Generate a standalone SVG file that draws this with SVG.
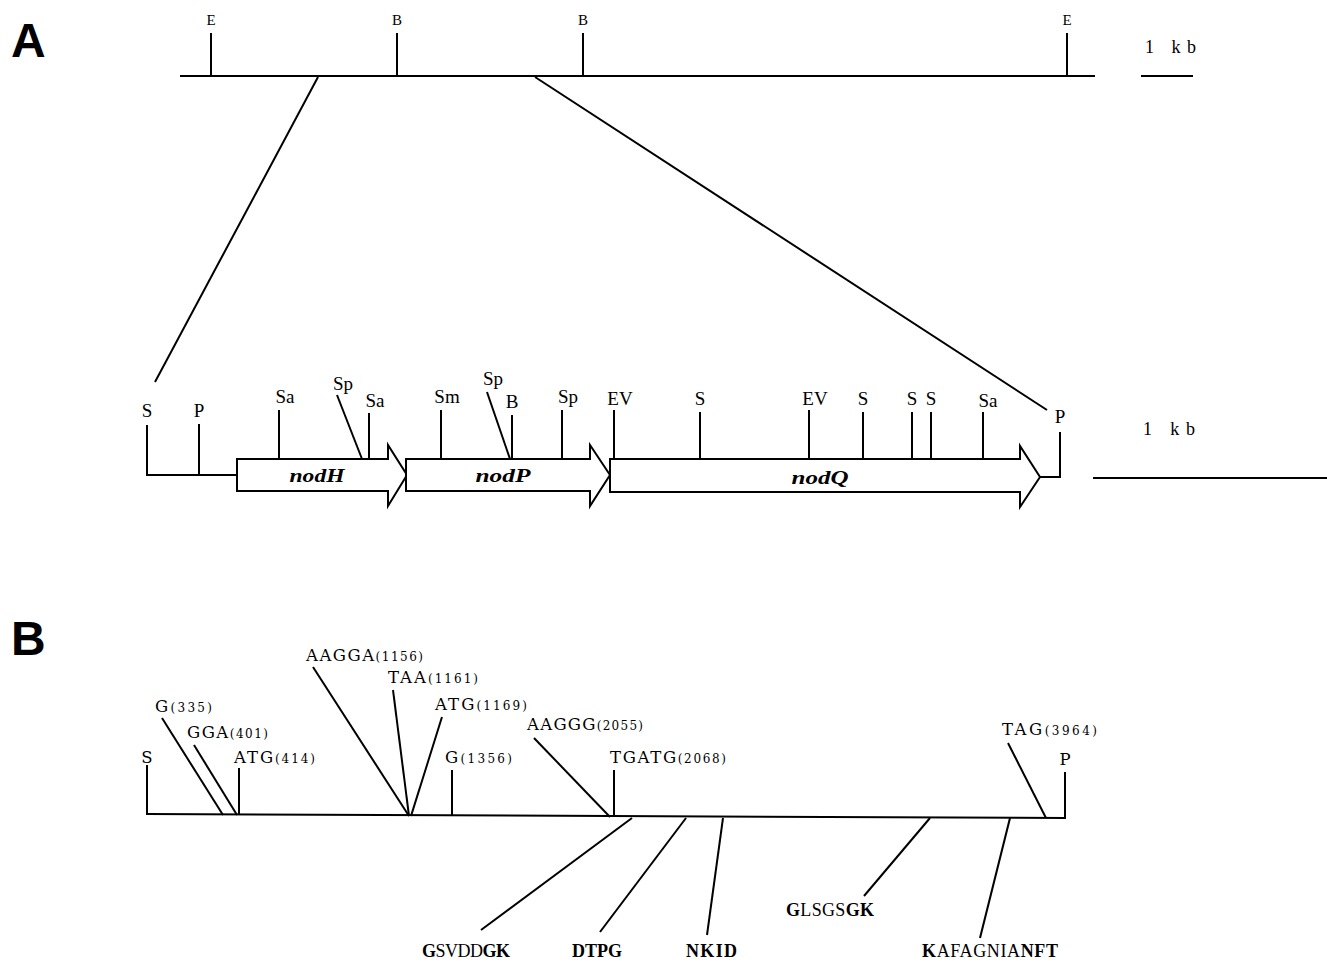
<svg xmlns="http://www.w3.org/2000/svg" width="1327" height="962" viewBox="0 0 1327 962">
<style>
.ln{stroke:#000;stroke-width:2;fill:none;stroke-linecap:butt}
.arr{stroke:#000;stroke-width:2;fill:#fff;stroke-linejoin:miter}
.panel{font-family:"Liberation Sans",Arial,sans-serif;font-weight:bold;font-size:48px;fill:#000}
.rs{font-family:"Liberation Serif","Times New Roman",serif;font-size:15px;fill:#000;text-anchor:middle}
.rm{font-family:"Liberation Serif","Times New Roman",serif;font-size:19px;fill:#000;text-anchor:middle}
.gene{font-family:"Liberation Serif","Times New Roman",serif;font-size:19px;font-weight:bold;font-style:italic;fill:#000;text-anchor:middle}
.sb{font-family:"Liberation Serif","Times New Roman",serif;font-size:18px;fill:#000}
.bl{font-family:"DejaVu Serif","Liberation Serif",serif;font-size:16.5px;fill:#000}
.bl .n{font-size:12px}
.mo{font-family:"Liberation Serif","Times New Roman",serif;font-size:18px;fill:#000}
.mo .b{font-weight:bold}
</style>

<g id="labels-panels">
<text class="panel" x="11" y="57">A</text>
<text class="panel" x="11" y="655">B</text>
</g>

<g id="top-map">
<line class="ln" x1="180" y1="76" x2="1095" y2="76"/>
<line class="ln" x1="211" y1="33" x2="211" y2="76"/>
<line class="ln" x1="397" y1="33" x2="397" y2="76"/>
<line class="ln" x1="583" y1="33" x2="583" y2="76"/>
<line class="ln" x1="1067" y1="33" x2="1067" y2="76"/>
<text class="rs" x="211" y="25">E</text>
<text class="rs" x="397" y="25">B</text>
<text class="rs" x="583" y="25">B</text>
<text class="rs" x="1067" y="25">E</text>
</g>

<g id="scale-top">
<line class="ln" x1="1141" y1="76" x2="1193" y2="76" stroke-width="2.5"/>
<text class="sb" x="1145" y="53" textLength="51" lengthAdjust="spacing">1 kb</text>
</g>

<g id="connectors">
<line class="ln" x1="318" y1="77" x2="155" y2="382"/>
<line class="ln" x1="535" y1="77" x2="1047" y2="410"/>
</g>

<g id="middle-map">
<polyline class="ln" points="147,425 147,475 237,475"/>
<line class="ln" x1="199" y1="424" x2="199" y2="475"/>
<polyline class="ln" points="1040,477 1060,477 1060,432"/>
<text class="rm" x="147" y="417">S</text>
<text class="rm" x="199" y="417">P</text>
<text class="rm" x="1060" y="423">P</text>
</g>

<g id="nodH">
<path class="arr" d="M237,459 H388 V445 L407,475 L388,506 V491 H237 Z"/>
<text class="gene" x="317" y="482" textLength="55" lengthAdjust="spacingAndGlyphs">nodH</text>
</g>
<g id="nodP">
<path class="arr" d="M406,459 H590 V445 L610,475 L590,506 V491 H406 Z"/>
<text class="gene" x="503" y="482" textLength="55" lengthAdjust="spacingAndGlyphs">nodP</text>
</g>
<g id="nodQ">
<path class="arr" d="M610,459 H1020 V446 L1040,477 L1020,507 V492 H610 Z"/>
<text class="gene" x="820" y="484" textLength="57" lengthAdjust="spacingAndGlyphs">nodQ</text>
</g>

<g id="sites">
<line class="ln" x1="279" y1="410" x2="279" y2="459"/>
<line class="ln" x1="337" y1="395" x2="362" y2="459"/>
<line class="ln" x1="369" y1="413" x2="369" y2="459"/>
<line class="ln" x1="441" y1="410" x2="441" y2="459"/>
<line class="ln" x1="487" y1="392" x2="510" y2="459"/>
<line class="ln" x1="512" y1="415" x2="512" y2="459"/>
<line class="ln" x1="562" y1="410" x2="562" y2="459"/>
<line class="ln" x1="614" y1="410" x2="614" y2="459"/>
<line class="ln" x1="700" y1="412" x2="700" y2="459"/>
<line class="ln" x1="809" y1="410" x2="809" y2="459"/>
<line class="ln" x1="863" y1="412" x2="863" y2="459"/>
<line class="ln" x1="912" y1="412" x2="912" y2="459"/>
<line class="ln" x1="931" y1="412" x2="931" y2="459"/>
<line class="ln" x1="983" y1="412" x2="983" y2="459"/>
<text class="rm" x="285" y="403">Sa</text>
<text class="rm" x="343" y="390">Sp</text>
<text class="rm" x="375" y="407">Sa</text>
<text class="rm" x="447" y="403">Sm</text>
<text class="rm" x="493" y="385">Sp</text>
<text class="rm" x="512" y="408">B</text>
<text class="rm" x="568" y="403">Sp</text>
<text class="rm" x="620" y="405">EV</text>
<text class="rm" x="700" y="405">S</text>
<text class="rm" x="815" y="405">EV</text>
<text class="rm" x="863" y="405">S</text>
<text class="rm" x="912" y="405">S</text>
<text class="rm" x="931" y="405">S</text>
<text class="rm" x="988" y="407">Sa</text>
</g>

<g id="scale-middle">
<line class="ln" x1="1093" y1="478" x2="1327" y2="478"/>
<text class="sb" x="1143" y="435" textLength="52" lengthAdjust="spacing">1 kb</text>
</g>

<g id="panel-b-map">
<line class="ln" x1="147" y1="814" x2="1065" y2="818"/>
<line class="ln" x1="147" y1="765" x2="147" y2="815"/>
<line class="ln" x1="1065" y1="772" x2="1065" y2="819"/>
<line class="ln" x1="162" y1="718" x2="223" y2="815"/>
<line class="ln" x1="194" y1="745" x2="237" y2="815"/>
<line class="ln" x1="239" y1="768" x2="239" y2="815"/>
<line class="ln" x1="313" y1="667" x2="409" y2="816"/>
<line class="ln" x1="393" y1="690" x2="409" y2="816"/>
<line class="ln" x1="442" y1="717" x2="411" y2="816"/>
<line class="ln" x1="452" y1="770" x2="452" y2="816"/>
<line class="ln" x1="534" y1="738" x2="610" y2="817"/>
<line class="ln" x1="614" y1="770" x2="614" y2="817"/>
<line class="ln" x1="1008" y1="743" x2="1046" y2="818"/>
<line class="ln" x1="632" y1="818" x2="481" y2="930"/>
<line class="ln" x1="686" y1="818" x2="600" y2="932"/>
<line class="ln" x1="723" y1="818" x2="707" y2="935"/>
<line class="ln" x1="930" y1="818" x2="864" y2="896"/>
<line class="ln" x1="1010" y1="818" x2="980" y2="938"/>
</g>

<g id="panel-b-labels">
<text class="bl" x="147" y="763" text-anchor="middle">S</text>
<text class="bl" x="1065" y="765" text-anchor="middle">P</text>
<text class="bl" x="155" y="712" textLength="57" lengthAdjust="spacing">G<tspan class="n">(335)</tspan></text>
<text class="bl" x="187" y="738" textLength="81" lengthAdjust="spacing">GGA<tspan class="n">(401)</tspan></text>
<text class="bl" x="234" y="763" textLength="81" lengthAdjust="spacing">ATG<tspan class="n">(414)</tspan></text>
<text class="bl" x="306" y="661" textLength="117" lengthAdjust="spacing">AAGGA<tspan class="n">(1156)</tspan></text>
<text class="bl" x="388" y="683" textLength="90" lengthAdjust="spacing">TAA<tspan class="n">(1161)</tspan></text>
<text class="bl" x="435" y="710" textLength="92" lengthAdjust="spacing">ATG<tspan class="n">(1169)</tspan></text>
<text class="bl" x="445" y="763" textLength="67" lengthAdjust="spacing">G<tspan class="n">(1356)</tspan></text>
<text class="bl" x="527" y="730" textLength="116" lengthAdjust="spacing">AAGGG<tspan class="n">(2055)</tspan></text>
<text class="bl" x="610" y="763" textLength="116" lengthAdjust="spacing">TGATG<tspan class="n">(2068)</tspan></text>
<text class="bl" x="1002" y="735" textLength="95" lengthAdjust="spacing">TAG<tspan class="n">(3964)</tspan></text>
</g>

<g id="motifs">
<text class="mo" x="422" y="957" textLength="88" lengthAdjust="spacing"><tspan class="b">G</tspan>SVDD<tspan class="b">GK</tspan></text>
<text class="mo" x="572" y="957" textLength="50" lengthAdjust="spacing"><tspan class="b">DTPG</tspan></text>
<text class="mo" x="686" y="957" textLength="51" lengthAdjust="spacing"><tspan class="b">NKID</tspan></text>
<text class="mo" x="786" y="916" textLength="88" lengthAdjust="spacing"><tspan class="b">G</tspan>LSGS<tspan class="b">GK</tspan></text>
<text class="mo" x="922" y="957" textLength="136" lengthAdjust="spacing"><tspan class="b">K</tspan>AFAGNIA<tspan class="b">NFT</tspan></text>
</g>
</svg>
